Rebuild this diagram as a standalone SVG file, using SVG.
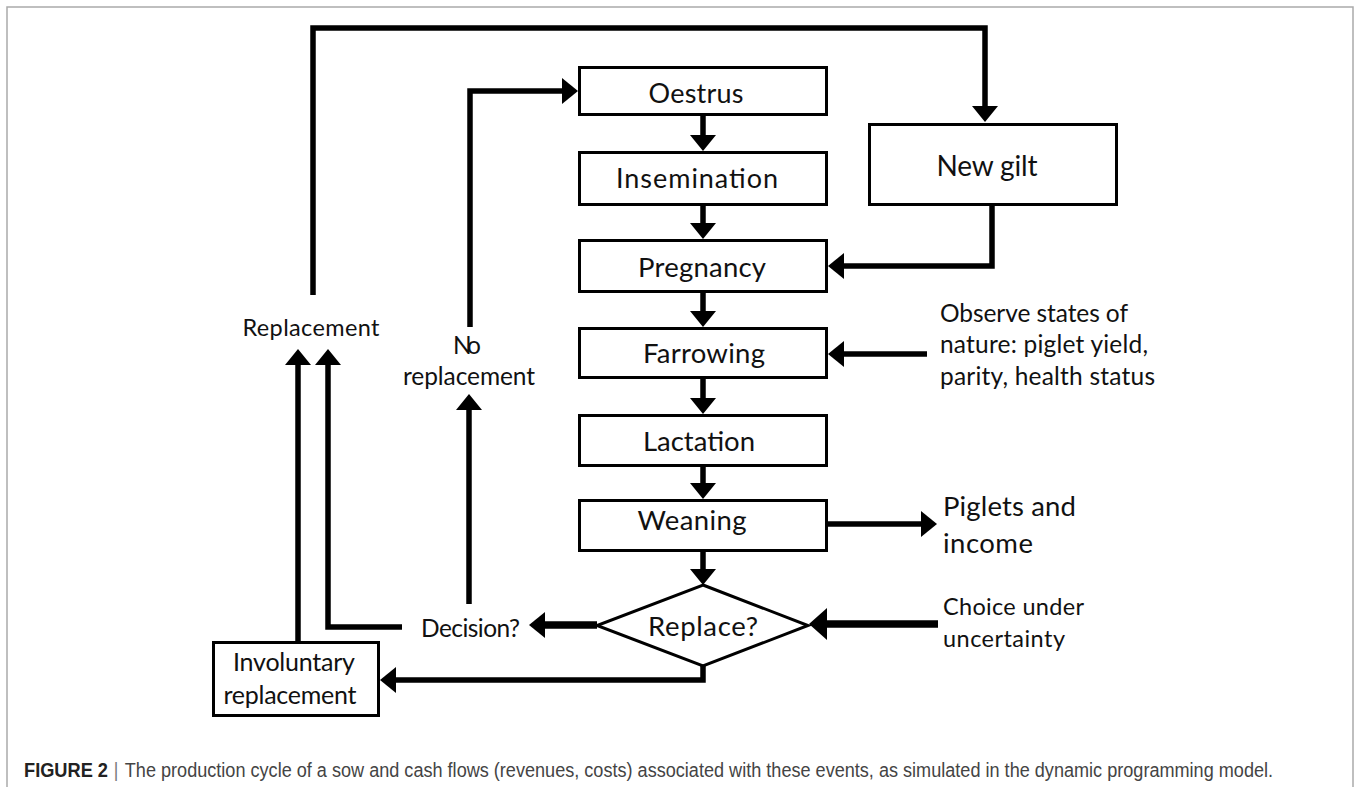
<svg xmlns="http://www.w3.org/2000/svg" width="1357" height="787" viewBox="0 0 1357 787">
<defs>
<style>
.box{fill:#fff;stroke:#000;stroke-width:3}
.lbl{font-family:Lato,"Open Sans","Liberation Sans",sans-serif;fill:#111}
.c{text-anchor:middle}
.con{fill:none;stroke:#000;stroke-width:5.5;stroke-linejoin:miter}
.thick{stroke-width:7.5}
.cap{font-family:"Liberation Sans",Arial,sans-serif;font-size:21px}
</style>
<marker id="ah" markerUnits="userSpaceOnUse" markerWidth="20" markerHeight="30" viewBox="0 -15 20 30" refX="0" refY="0" orient="auto">
<path d="M0,-13 L16,0 L0,13 z" fill="#000"/>
</marker>
<marker id="ahb" markerUnits="userSpaceOnUse" markerWidth="22" markerHeight="36" viewBox="0 -18 22 36" refX="0" refY="0" orient="auto">
<path d="M0,-16 L18,0 L0,16 z" fill="#000"/>
</marker>
</defs>
<rect x="7" y="7" width="1346" height="800" fill="#fff" stroke="#aaa" stroke-width="1.5"/>

<g id="connectors">
<path class="con" d="M313,295 V28 H985 V106" marker-end="url(#ah)"/>
<path class="con" d="M992,206 V266 H844" marker-end="url(#ah)"/>
<path class="con" d="M470,327 V91 H562" marker-end="url(#ah)"/>
<path class="con" d="M703,116 V135" marker-end="url(#ah)"/>
<path class="con" d="M703,206 V223" marker-end="url(#ah)"/>
<path class="con" d="M703,293 V311" marker-end="url(#ah)"/>
<path class="con" d="M703,379 V398" marker-end="url(#ah)"/>
<path class="con" d="M703,467 V483" marker-end="url(#ah)"/>
<path class="con" d="M703,552 V569" marker-end="url(#ah)"/>
<path class="con" d="M927,354 H844" marker-end="url(#ah)"/>
<path class="con" d="M828,524 H921" marker-end="url(#ah)"/>
<path class="con thick" d="M938,624 H827" marker-end="url(#ahb)"/>
<path class="con thick" d="M597,625 H545" marker-end="url(#ah)"/>
<path class="con" d="M703,666 V680 H396" marker-end="url(#ah)"/>
<path class="con" d="M402,627 H328 V365" marker-end="url(#ah)"/>
<path class="con" d="M298,641 V365" marker-end="url(#ah)"/>
<path class="con" d="M469,604 V410" marker-end="url(#ah)"/>
</g>

<g id="oestrus"><rect class="box" x="579.5" y="67.5" width="247" height="47"/><text class="lbl c" x="696" y="103" font-size="27" textLength="95">Oestrus</text></g>
<g id="insemination"><rect class="box" x="579.5" y="152.5" width="247" height="52"/><text class="lbl c" x="697" y="188" font-size="27" textLength="162">Insemination</text></g>
<g id="pregnancy"><rect class="box" x="579.5" y="240.5" width="247" height="51"/><text class="lbl c" x="702" y="277" font-size="27.5" textLength="128">Pregnancy</text></g>
<g id="farrowing"><rect class="box" x="579.5" y="328.5" width="247" height="49"/><text class="lbl c" x="704" y="363" font-size="27.5" textLength="122">Farrowing</text></g>
<g id="lactation"><rect class="box" x="579.5" y="415.5" width="247" height="50"/><text class="lbl c" x="699" y="451" font-size="27.5" textLength="112">Lactation</text></g>
<g id="weaning"><rect class="box" x="579.5" y="500.5" width="247" height="50"/><text class="lbl c" x="692" y="530" font-size="27.5" textLength="109">Weaning</text></g>
<g id="replace"><polygon points="703,585 808,625.5 703,666 597,625.5" fill="#fff" stroke="#000" stroke-width="3"/><text class="lbl c" x="703" y="636" font-size="27.5" textLength="110">Replace?</text></g>
<g id="new-gilt"><rect class="box" x="869.5" y="124.5" width="247" height="80"/><text class="lbl c" x="987" y="176" font-size="28" textLength="101">New gilt</text></g>
<g id="involuntary"><rect class="box" x="213.5" y="642.5" width="165" height="73"/><text class="lbl c" x="294" y="671" font-size="25" textLength="122">Involuntary</text><text class="lbl c" x="290" y="704" font-size="25" textLength="133">replacement</text></g>

<g id="replacement-label"><text class="lbl c" x="311" y="336" font-size="23.5" textLength="137">Replacement</text></g>
<g id="no-replacement-label"><text class="lbl c" x="467" y="354" font-size="24.5" textLength="28">No</text><text class="lbl c" x="469" y="385" font-size="24.5" textLength="132">replacement</text></g>
<g id="decision-label"><text class="lbl" x="421" y="637" font-size="24.5" textLength="99">Decision?</text></g>
<g id="observe-label"><text class="lbl" x="940" y="322" font-size="24.5" textLength="188">Observe states of</text><text class="lbl" x="940" y="353" font-size="24.5" textLength="208">nature: piglet yield,</text><text class="lbl" x="940" y="385" font-size="24.5" textLength="215">parity, health status</text></g>
<g id="piglets-label"><text class="lbl" x="943" y="516" font-size="27.5" textLength="133">Piglets and</text><text class="lbl" x="943" y="553" font-size="27.5" textLength="90">income</text></g>
<g id="choice-label"><text class="lbl" x="943" y="615" font-size="23.5" textLength="141">Choice under</text><text class="lbl" x="943" y="647" font-size="23.5" textLength="122">uncertainty</text></g>

<g id="caption" transform="translate(24,777) scale(0.84,1)">
<text class="cap" x="0" y="0" fill="#444"><tspan font-weight="bold" fill="#222" textLength="100" lengthAdjust="spacingAndGlyphs">FIGURE 2</tspan><tspan x="107" fill="#777">|</tspan><tspan x="120" textLength="1367" lengthAdjust="spacingAndGlyphs">The production cycle of a sow and cash flows (revenues, costs) associated with these events, as simulated in the dynamic programming model.</tspan></text>
</g>
</svg>
